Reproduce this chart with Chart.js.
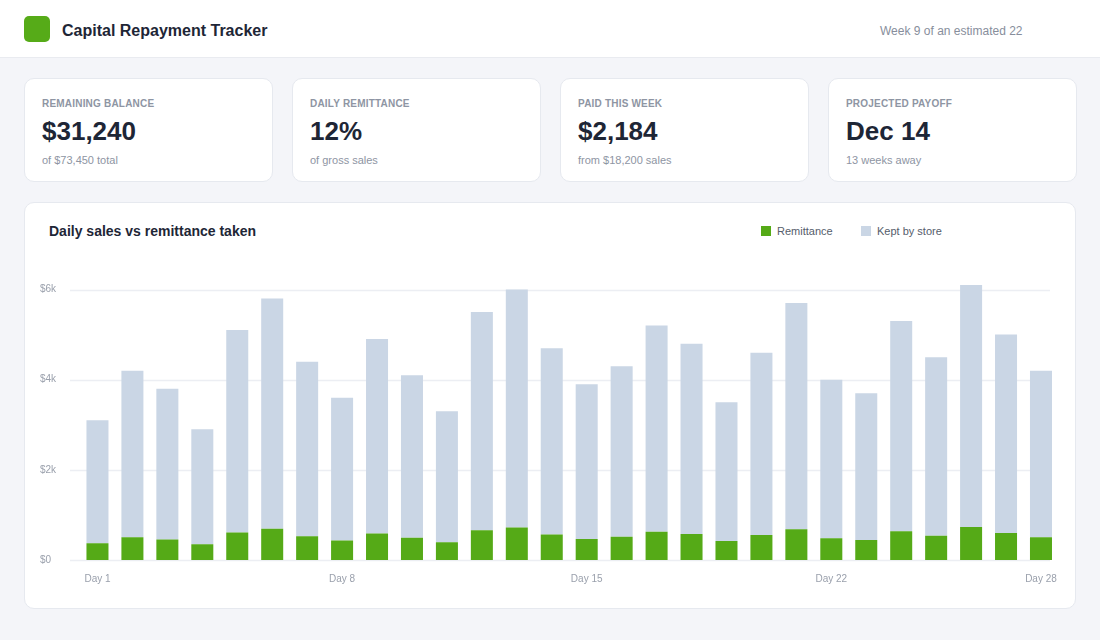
<!DOCTYPE html>
<html>
<head>
  <meta charset="UTF-8">
  <title>Capital Repayment Tracker</title>
  <script src="https://cdn.jsdelivr.net/npm/chart.js"></script>
  <style>
    body {
      margin: 0;
      width: 1100px;
      height: 640px;
      background: #f4f5f9;
      font-family: "Liberation Sans", Arial, sans-serif;
      position: relative;
      overflow: hidden;
    }
    .header {
      position: absolute;
      left: 0; top: 0;
      width: 1100px; height: 57px;
      background: #fff;
      border-bottom: 1px solid #e9ebf0;
    }
    .logo {
      position: absolute;
      left: 24px; top: 16px;
      width: 26px; height: 26px;
      border-radius: 5px;
      background: #56ab18;
    }
    .title {
      position: absolute;
      left: 62px; top: 22px;
      font-size: 16px;
      font-weight: bold;
      color: #1e2636;
    }
    .week {
      position: absolute;
      left: 880px; top: 24px;
      font-size: 12px;
      color: #878e9c;
    }
    .card {
      position: absolute;
      background: #fff;
      border: 1px solid #e6e9ef;
      border-radius: 10px;
      box-sizing: border-box;
    }
    .kpi { top: 78px; width: 249px; height: 104px; }
    .kpi .lbl {
      position: absolute; left: 17px; top: 19px;
      font-size: 10px; font-weight: bold; color: #8e95a3;
      letter-spacing: 0.2px;
    }
    .kpi .val {
      position: absolute; left: 17px; top: 37px;
      font-size: 26px; font-weight: bold; color: #1e2636;
    }
    .kpi .sub {
      position: absolute; left: 17px; top: 75px;
      font-size: 11px; color: #8e95a3;
    }
    .chartCard { left: 24px; top: 202px; width: 1052px; height: 407px; }
    .chartTitle {
      position: absolute; left: 24px; top: 20px;
      font-size: 14px; font-weight: bold; color: #1e2636;
    }
    .legend { position: absolute; top: 22px; font-size: 11px; color: #555d6b; }
    .legend span.sw {
      display: inline-block; width: 10px; height: 10px;
      vertical-align: -1px; margin-right: 6px;
    }
    #wrap {
      position: absolute;
      left: 40px; top: 250px;
      width: 1030px; height: 340px;
    }
  </style>
</head>
<body>
  <div class="header">
    <div class="logo"></div>
    <div class="title">Capital Repayment Tracker</div>
    <div class="week">Week 9 of an estimated 22</div>
  </div>

  <div class="card kpi" style="left:24px">
    <div class="lbl">REMAINING BALANCE</div>
    <div class="val">$31,240</div>
    <div class="sub">of $73,450 total</div>
  </div>
  <div class="card kpi" style="left:292px">
    <div class="lbl">DAILY REMITTANCE</div>
    <div class="val">12%</div>
    <div class="sub">of gross sales</div>
  </div>
  <div class="card kpi" style="left:560px">
    <div class="lbl">PAID THIS WEEK</div>
    <div class="val">$2,184</div>
    <div class="sub">from $18,200 sales</div>
  </div>
  <div class="card kpi" style="left:828px">
    <div class="lbl">PROJECTED PAYOFF</div>
    <div class="val">Dec 14</div>
    <div class="sub">13 weeks away</div>
  </div>

  <div class="card chartCard">
    <div class="chartTitle">Daily sales vs remittance taken</div>
    <div id="legend"></div>
  </div>

  <div id="wrap"><canvas id="salesChart"></canvas></div>

  <script>
    const days = ['Day 1', 'Day 2', 'Day 3', 'Day 4', 'Day 5', 'Day 6', 'Day 7',
      'Day 8', 'Day 9', 'Day 10', 'Day 11', 'Day 12', 'Day 13', 'Day 14',
      'Day 15', 'Day 16', 'Day 17', 'Day 18', 'Day 19', 'Day 20', 'Day 21',
      'Day 22', 'Day 23', 'Day 24', 'Day 25', 'Day 26', 'Day 27', 'Day 28'];

    // remittance taken each day (12% of the day's sales)
    const remittance = [372, 504, 456, 348, 612, 696, 528,
      432, 588, 492, 396, 660, 720, 564,
      468, 516, 624, 576, 420, 552, 684,
      480, 444, 636, 540, 732, 600, 504];

    // what the store keeps
    const keptByStore = [2728, 3696, 3344, 2552, 4488, 5104, 3872,
      3168, 4312, 3608, 2904, 4840, 5280, 4136,
      3432, 3784, 4576, 4224, 3080, 4048, 5016,
      3520, 3256, 4664, 3960, 5368, 4400, 3696];

    const yTicks = [0, 2000, 4000, 6000];
    const xTickLabels = ['Day 1', 'Day 8', 'Day 15', 'Day 22', 'Day 28'];

    const GREEN = '#55aa17';
    const SLATE = '#cad6e5';

    // grid lines in the reference run a bit left of the bars
    const gridPlugin = {
      id: 'softGrid',
      beforeDatasetsDraw(chart) {
        const { ctx, scales: { y } } = chart;
        ctx.save();
        ctx.strokeStyle = '#eceef3';
        ctx.lineWidth = 1.5;
        y.ticks.forEach(t => {
          const py = Math.round(y.getPixelForValue(t.value)) + 0.5;
          ctx.beginPath();
          ctx.moveTo(30, py);
          ctx.lineTo(1010, py);
          ctx.stroke();
        });
        ctx.restore();
      }
    };

    const chart = new Chart(document.getElementById('salesChart'), {
      type: 'bar',
      data: {
        labels: days,
        datasets: [
          { label: 'Remittance', data: remittance, backgroundColor: GREEN, borderWidth: 0 },
          { label: 'Kept by store', data: keptByStore, backgroundColor: SLATE, borderWidth: 0 }
        ]
      },
      options: {
        responsive: true,
        maintainAspectRatio: false,
        animation: false,
        layout: { padding: { top: 17, right: 10 } },
        datasets: { bar: { categoryPercentage: 1, barPercentage: 0.63 } },
        plugins: { legend: { display: false }, tooltip: { enabled: false } },
        scales: {
          x: {
            stacked: true,
            grid: { display: false, drawTicks: false },
            border: { display: false },
            afterFit(s) { s.height = 30; },
            ticks: {
              autoSkip: false,
              maxRotation: 0,
              padding: 13,
              color: '#9aa0ac',
              font: { family: 'Liberation Sans', size: 10 },
              callback(v, i) {
                const l = days[i];
                return xTickLabels.includes(l) ? l : '';
              }
            }
          },
          y: {
            stacked: true,
            min: 0,
            max: 6500,
            grid: { display: false, drawTicks: false },
            border: { display: false },
            afterFit(s) { s.width = 40; },
            afterBuildTicks(s) { s.ticks = yTicks.map(v => ({ value: v })); },
            ticks: {
              crossAlign: 'far',
              padding: 0,
              color: '#9aa0ac',
              font: { family: 'Liberation Sans', size: 10 },
              callback: v => v === 0 ? '$0' : '$' + (v / 1000) + 'k'
            }
          }
        }
      },
      plugins: [gridPlugin]
    });

    // html legend built from the datasets
    const legendLeft = [736, 836];
    document.getElementById('legend').innerHTML = chart.data.datasets.map((ds, i) =>
      `<div class="legend" style="left:${legendLeft[i]}px"><span class="sw" style="background:${ds.backgroundColor}"></span>${ds.label}</div>`
    ).join('');
  </script>
</body>
</html>
